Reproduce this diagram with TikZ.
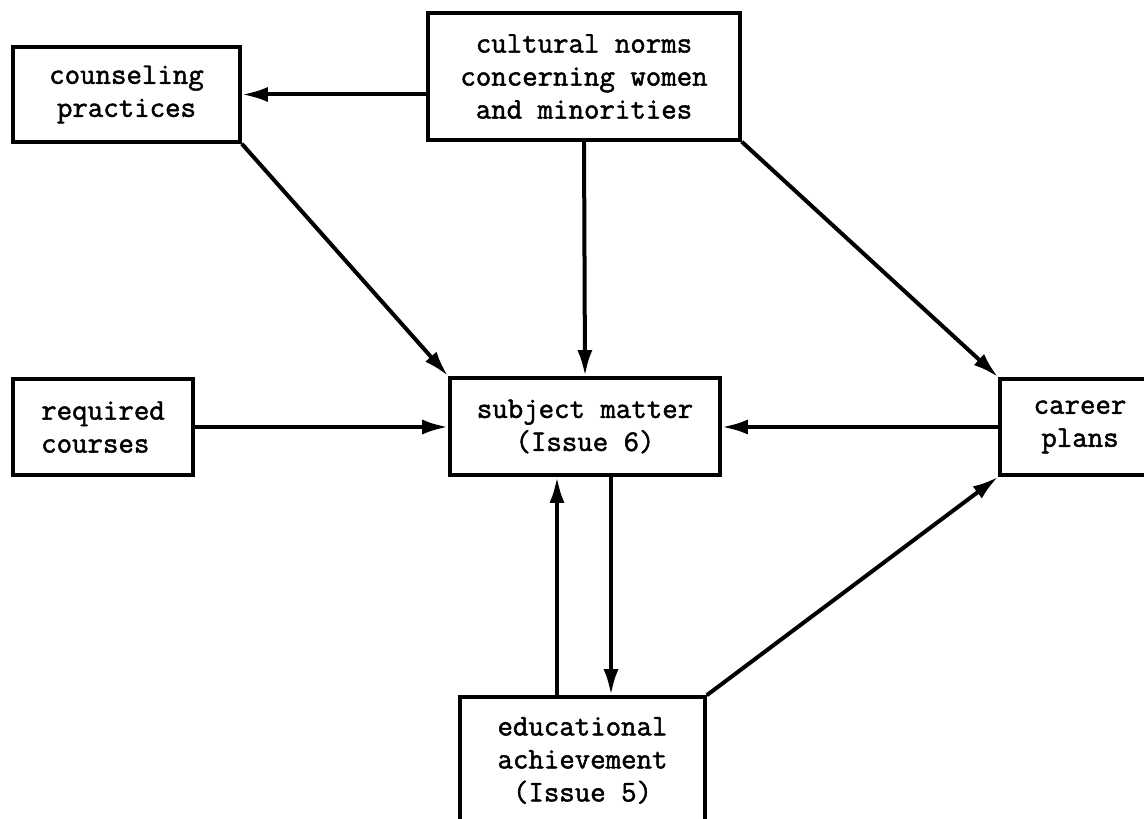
\documentclass[tikz,border=0pt]{standalone}
\usepackage{fontspec}
\usetikzlibrary{arrows.meta}
\newfontfamily\boxfont{Latin Modern Mono}[FakeBold=1.6]

\begin{document}
\begin{tikzpicture}[x=0.5pt, y=-0.5pt,
  box/.style={draw, line width=1.8pt, inner sep=0pt, align=center,
    font=\fontsize{15}{16.5}\selectfont\boxfont\bfseries},
  arr/.style={-{Latex[length=13pt, width=7.5pt]}, line width=2pt}]

\useasboundingbox (0,0) rectangle (1144,818);
\clip (0,0) rectangle (1144,818);

\node[box, minimum width=113.5pt, minimum height=47.5pt] (counsel) at (126.5,94.5) {counseling\\practices};
\node[box, minimum width=156pt, minimum height=63.5pt] (norms) at (584,76.5) {cultural norms\\concerning women\\and minorities};
\node[box, minimum width=90pt, minimum height=48pt, align=left] (required) at (103,427) {required\\courses};
\node[box, minimum width=135pt, minimum height=48.5pt] (subject) at (585,426.5) {subject matter\\(Issue 6)};
\node[box, minimum width=80pt, minimum height=48pt] (career) at (1080,427) {career\\plans};
\node[box, minimum width=122.5pt, minimum height=63.5pt] (achieve) at (582.5,760.5) {educational\\achievement\\(Issue 5)};

\draw[arr] (norms.west |- counsel.east) -- (counsel.east);
\draw[arr] (counsel.south east) -- (subject.north west);
\draw[arr] (norms.south) -- (subject.north);
\draw[arr] (norms.south east) -- (career.north west);
\draw[arr] (required.east) -- (subject.west |- required.east);
\draw[arr] (career.west) -- (subject.east |- career.west);
\draw[arr] ([xshift=-14pt]subject.south |- achieve.north) -- ([xshift=-14pt]subject.south);
\draw[arr] ([xshift=13pt]subject.south) -- ([xshift=13pt]subject.south |- achieve.north);
\draw[arr] (achieve.north east) -- (career.south west);

\end{tikzpicture}
\end{document}
